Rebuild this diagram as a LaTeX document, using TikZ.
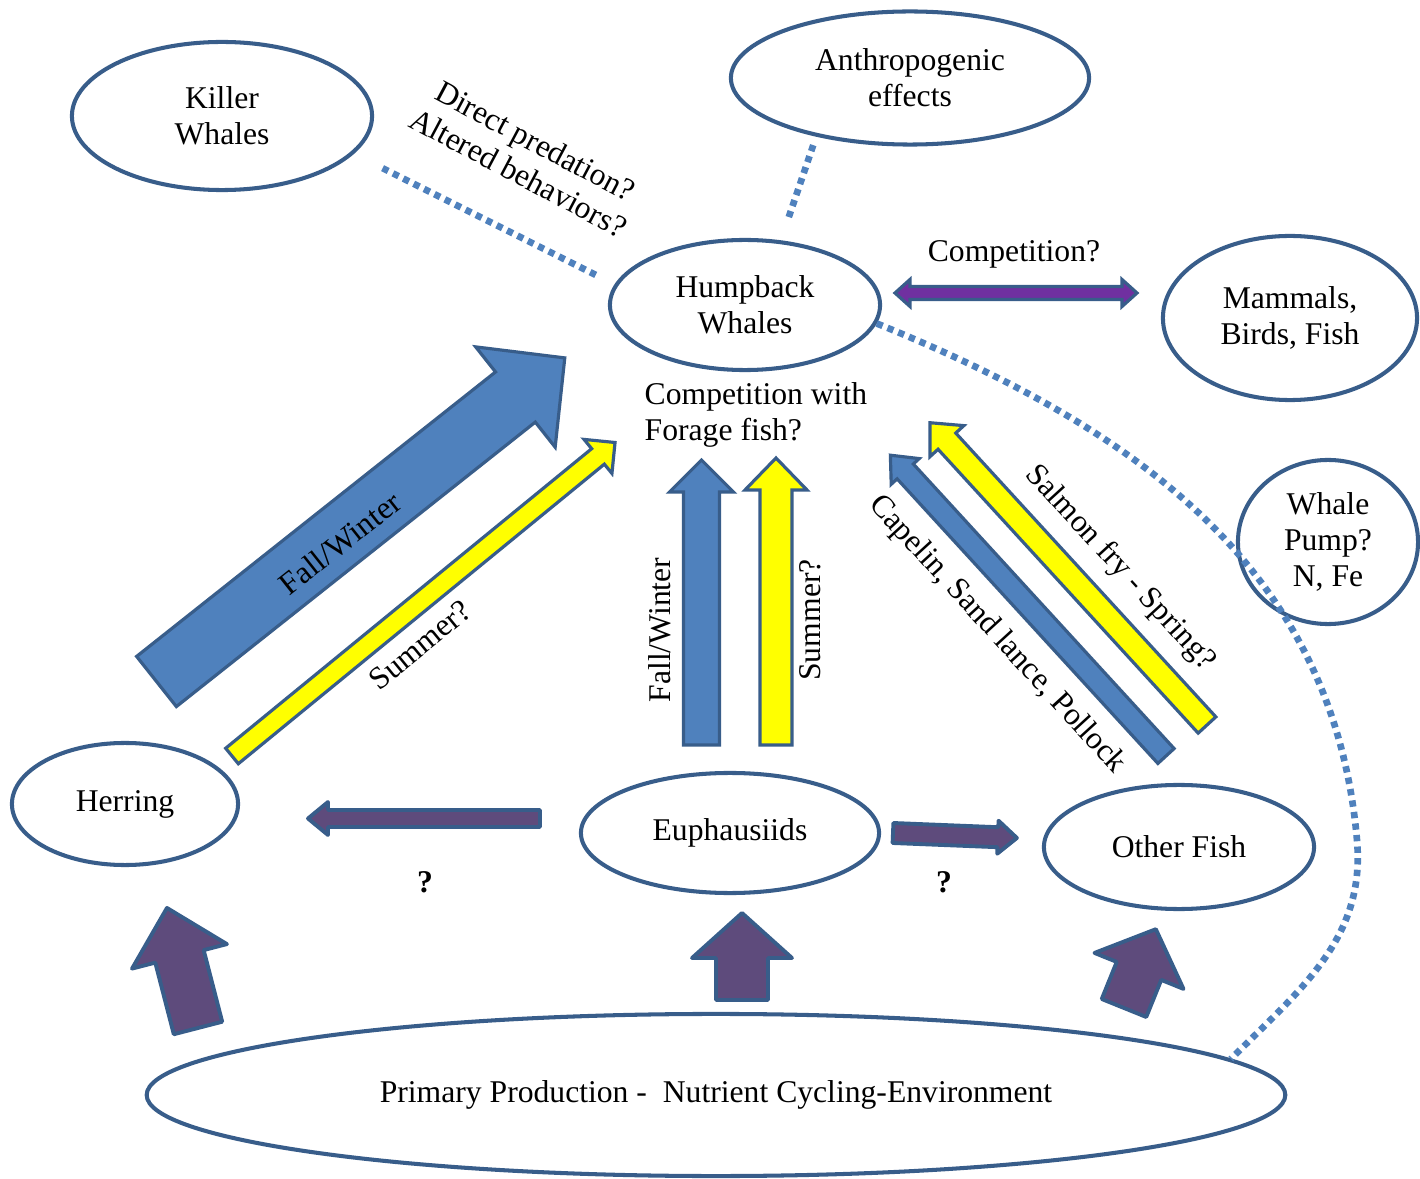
\documentclass[tikz,border=0pt]{standalone}
\usepackage{fontspec}
\setmainfont{Liberation Serif}
\usetikzlibrary{shapes.geometric}
\definecolor{ol}{HTML}{385D8A}
\definecolor{bf}{HTML}{4F81BD}
\definecolor{yf}{HTML}{FFFF00}
\definecolor{pf}{HTML}{5E4B7C}
\definecolor{pb}{HTML}{7030A0}
% block arrow: style, tail centre, angle, length, half shaft, half head, head length
\newcommand{\barrow}[7]{%
  \begin{scope}[shift={(#2)},rotate=#3]
    \draw[#1] (0,-#5) -- ({#4-#7},-#5) -- ({#4-#7},-#6) -- (#4,0) -- ({#4-#7},#6) -- ({#4-#7},#5) -- (0,#5) -- cycle;
  \end{scope}}
\begin{document}
\begin{tikzpicture}[x=0.01cm,y=-0.01cm,
  every node/.style={font=\fontsize{9}{10.24}\selectfont},
  oval/.style={ellipse, draw=ol, line width=1.15pt, inner sep=0pt, align=center},
  dotline/.style={draw=bf, line width=1.9pt, dash pattern=on 1.8pt off 1.5pt},
  bluearrow/.style={fill=bf, draw=ol, line width=0.9pt},
  yellowarrow/.style={fill=yf, draw=ol, line width=0.9pt},
  purplearrow/.style={fill=pf, draw=ol, line width=1.1pt, line join=round},
  dblarrow/.style={fill=pb, draw=ol, line width=0.9pt},
  lbl/.style={inner sep=0pt, align=center}]
\useasboundingbox[fill=white] (0,0) rectangle (1420,1179);

% nodes
\node[oval, minimum width=3.0cm, minimum height=1.48cm] (kw) at (222,116) {Killer\\Whales};
\node[oval, minimum width=3.58cm, minimum height=1.33cm] (ae) at (910,78) {Anthropogenic\\effects};
\node[oval, minimum width=2.70cm, minimum height=1.30cm] (hw) at (745,305) {Humpback\\Whales};
\node[oval, minimum width=2.54cm, minimum height=1.64cm] (mb) at (1290,318) {Mammals,\\Birds, Fish};
\node[oval, minimum width=1.80cm, minimum height=1.64cm] (wp) at (1328,542) {Whale\\Pump?\\N, Fe};
\node[oval, minimum width=2.26cm, minimum height=1.22cm] (he) at (125,804) {Herring};
\node[oval, minimum width=2.98cm, minimum height=1.20cm] (eu) at (730,833) {Euphausiids};
\node[oval, minimum width=2.70cm, minimum height=1.24cm] (of) at (1179,847) {Other Fish};
\node[oval, minimum width=11.38cm, minimum height=1.62cm] (pp) at (716,1095) {Primary Production -\ \ Nutrient Cycling-Environment};

% dotted connectors
\draw[dotline, shorten <=0.32cm, shorten >=0.2cm] (kw.-16) -- (hw.171);
\draw[dotline, shorten <=0.09cm, shorten >=0.21cm] (ae.212) -- (hw.61);
\draw[dotline] (hw.-8) to[out=-22,in=95] (1357,840) to[out=-85,in=45] (pp.4);

% block arrows
\barrow{bluearrow}{156.5,681.5}{38.4}{521}{32}{64}{63}
\barrow{yellowarrow}{232,756}{39.3}{495}{10}{22}{22}
\barrow{bluearrow}{701.5,745}{90}{285}{18}{32}{32}
\barrow{yellowarrow}{776,745}{90}{287}{16}{31}{32}
\barrow{bluearrow}{1166,756}{132.5}{408}{11}{19}{22}
\barrow{yellowarrow}{1207,725}{132.5}{410}{12}{23}{25}
\barrow{purplearrow}{540,818.5}{180}{232}{8.5}{16.5}{20}
\barrow{purplearrow}{893,833}{-2.3}{124}{10}{16.5}{19}
\barrow{purplearrow}{198,1028}{104.5}{124}{25}{49}{50}
\barrow{purplearrow}{742,1000}{90}{87}{26}{50}{45}
\barrow{purplearrow}{1124,1008}{68}{85}{24}{48}{45}
\begin{scope}[shift={(895,293)}]
  \draw[dblarrow] (0,0) -- (15,-13.5) -- (15,-6.5) -- (227,-6.5) -- (227,-13.5) -- (242,0) -- (227,13.5) -- (227,6.5) -- (15,6.5) -- (15,13.5) -- cycle;
\end{scope}

% labels
\node[lbl, rotate=-28] (dp) at (527,157) {Direct predation?\\Altered behaviors?};
\node[lbl] (cq) at (1014,254) {Competition?};
\node[lbl, align=left, anchor=west] (cf) at (644,415) {Competition with\\Forage fish?};
\node[lbl, rotate=38.4] (fw1) at (340,543) {Fall/Winter};
\node[lbl, rotate=39.3] (su1) at (420,645) {Summer?};
\node[lbl, rotate=90] (fw2) at (660,630) {Fall/Winter};
\node[lbl, rotate=90] (su2) at (810,620) {Summer?};
\node[lbl, rotate=-47.5] (cap) at (997,635) {Capelin, Sand lance, Pollock};
\node[lbl, rotate=-47.5] (sal) at (1120,568) {Salmon fry - Spring?};
\node[lbl] (q1) at (425,882) {\textbf{?}};
\node[lbl] (q2) at (944,882) {\textbf{?}};
\end{tikzpicture}
\end{document}
